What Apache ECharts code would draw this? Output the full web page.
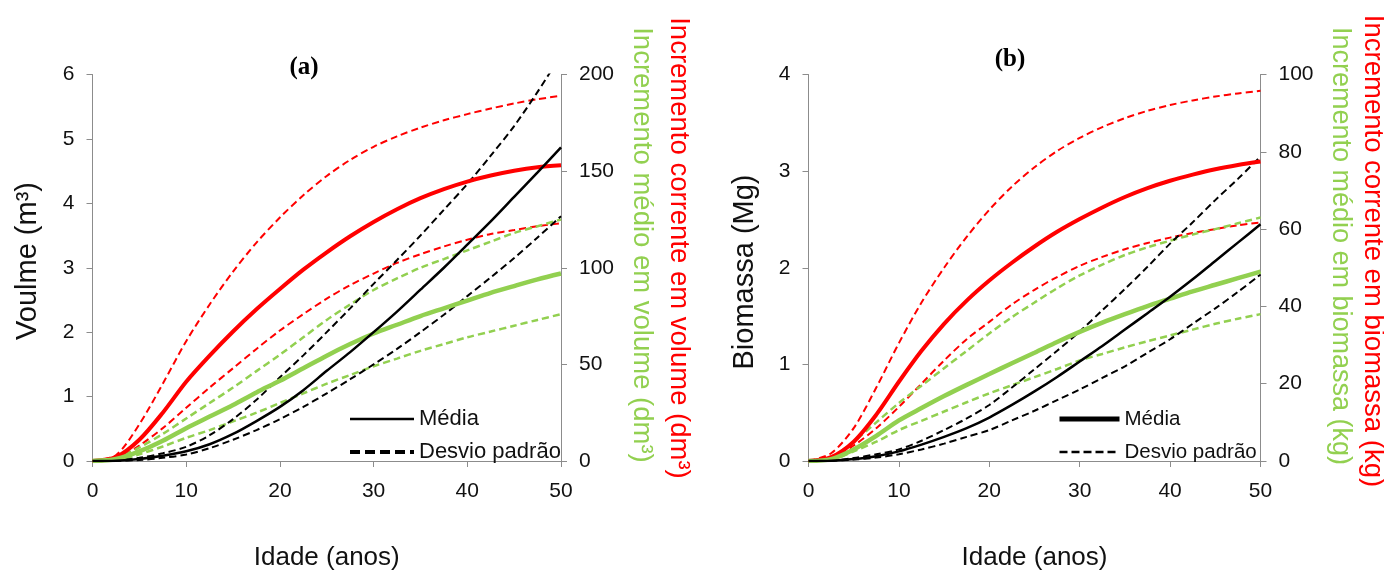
<!DOCTYPE html>
<html>
<head>
<meta charset="utf-8">
<script src="https://cdn.jsdelivr.net/npm/echarts@6/dist/echarts.min.js"></script>
<style>
html,body{margin:0;padding:0;background:#fff;}
#chart{width:1384px;height:576px;}
</style>
</head>
<body>
<div id="chart"></div>
<script>
// ---- data ----
const years = [0, 2.5, 5, 7.5, 10, 12.5, 15, 17.5, 20, 22.5, 25, 27.5, 30, 32.5, 35, 37.5, 40, 42.5, 45, 47.5, 50];

// Panel (a): volume (m3), left axis
const volMean  = [0, 0.005, 0.03, 0.08, 0.15, 0.26, 0.42, 0.62, 0.84, 1.10, 1.40, 1.69, 2.00, 2.32, 2.66, 3.00, 3.36, 3.72, 4.10, 4.48, 4.87];
const volUpper = [0, 0.01, 0.05, 0.12, 0.22, 0.40, 0.65, 0.95, 1.30, 1.64, 2.00, 2.37, 2.75, 3.12, 3.50, 3.90, 4.30, 4.74, 5.20, 5.73, 6.30];
const volLower = [0, 0.003, 0.015, 0.05, 0.10, 0.20, 0.33, 0.48, 0.65, 0.84, 1.05, 1.27, 1.50, 1.74, 2.00, 2.27, 2.56, 2.85, 3.15, 3.47, 3.80];
// Panel (a): increments (dm3), right axis
const icaVolMean  = [0, 2, 11, 25, 41, 54.5, 67, 78.5, 89, 99, 108, 116.3, 123.7, 130.3, 136, 140.7, 144.6, 147.7, 150.2, 152, 153];
const icaVolUpper = [0, 3, 19, 40, 62, 81, 98, 113, 126, 137.5, 147.5, 155.8, 162.6, 168, 172.5, 176.3, 179.5, 182.4, 185, 187.2, 189];
const icaVolLower = [0, 1, 8, 17, 27.5, 38, 48, 58, 67.5, 76, 84, 91, 97, 102.5, 107, 111, 114.5, 117.5, 119.5, 121.5, 123];
const imaVolMean  = [0, 1, 5, 10.5, 17, 23, 29, 35.5, 41.5, 48, 54.5, 60.5, 66, 70.5, 75, 79, 83, 87, 90.5, 94, 97];
const imaVolUpper = [0, 1.5, 7, 14, 22, 30, 38, 46.5, 55, 64, 73, 81, 88.5, 94.5, 100, 104.5, 109, 113.5, 118, 121.5, 125];
const imaVolLower = [0, 0.5, 3.5, 7.5, 12, 16, 20.5, 25, 30, 35, 40, 44.5, 49, 53, 57, 60.5, 64, 67, 70, 73, 76];

// Panel (b): biomass (Mg), left axis
const bioMean  = [0, 0.003, 0.02, 0.05, 0.10, 0.17, 0.25, 0.34, 0.45, 0.58, 0.72, 0.87, 1.03, 1.19, 1.36, 1.53, 1.70, 1.88, 2.07, 2.26, 2.45];
const bioUpper = [0, 0.004, 0.03, 0.07, 0.12, 0.21, 0.32, 0.44, 0.58, 0.76, 0.95, 1.14, 1.34, 1.56, 1.78, 2.01, 2.25, 2.47, 2.70, 2.92, 3.15];
const bioLower = [0, 0.002, 0.015, 0.035, 0.07, 0.12, 0.18, 0.25, 0.32, 0.42, 0.52, 0.63, 0.74, 0.86, 0.98, 1.12, 1.26, 1.42, 1.58, 1.75, 1.93];
// Panel (b): increments (kg), right axis
const icaBioMean  = [0, 1, 5, 12, 20.5, 28.5, 35.5, 41.5, 46.7, 51.3, 55.5, 59.3, 62.6, 65.6, 68.3, 70.6, 72.5, 74.1, 75.5, 76.6, 77.5];
const icaBioUpper = [0, 2, 8.5, 19, 30.5, 41, 50, 58, 65, 71, 76, 80.2, 83.6, 86.4, 88.7, 90.6, 92.1, 93.3, 94.3, 95.1, 95.8];
const icaBioLower = [0, 0.5, 4, 8.5, 14, 20, 26, 31.5, 36, 40.5, 44.3, 47.6, 50.5, 52.8, 54.8, 56.4, 57.8, 59, 60, 61, 61.7];
const imaBioMean  = [0, 0.5, 3, 6.5, 10.5, 13.7, 16.8, 19.7, 22.5, 25.3, 28, 30.8, 33.4, 35.8, 38, 40.1, 42, 43.9, 45.6, 47.3, 49];
const imaBioUpper = [0, 1, 5, 10, 15, 19.5, 24, 28.5, 33, 37.2, 41, 44.7, 48, 50.8, 53.3, 55.3, 57, 58.6, 60, 61.5, 63];
const imaBioLower = [0, 0.3, 2.5, 5, 8, 10.4, 12.8, 15.2, 17.5, 19.6, 21.7, 23.8, 26, 27.7, 29.4, 31, 32.5, 34, 35.5, 36.8, 38];

const legendNames = ['Média', 'Desvio padrão'];

// ---- chart ----
const FONT = "'Liberation Sans', Arial, sans-serif";
const RED = '#ff0000', GREEN = '#92d050', BLACK = '#000000', AXIS = '#8c8c8c';
const pairs = ys => years.map((x, i) => [x, ys[i]]);

function line(name, data, xi, yi, color, width, dashed, z) {
  return {
    name: name, type: 'line', xAxisIndex: xi, yAxisIndex: yi,
    data: pairs(data), smooth: 0.3, symbol: 'none',
    clip: true, silent: true, z: z,
    lineStyle: { color: color, width: width, type: dashed ? [7, 4] : 'solid' }
  };
}

function xAxis(gi) {
  return {
    type: 'value', gridIndex: gi, min: 0, max: 50, interval: 10,
    name: 'Idade (anos)', nameLocation: 'middle', nameGap: 84,
    nameTextStyle: { fontFamily: FONT, fontSize: 26, color: '#111', lineHeight: 26 },
    axisLine: { show: true, lineStyle: { color: AXIS, width: 1 } },
    axisTick: { show: true, length: 6, lineStyle: { color: AXIS } },
    axisLabel: { margin: 20, fontFamily: FONT, fontSize: 21, color: '#111' },
    splitLine: { show: false }
  };
}
function yAxis(gi, pos, max, interval) {
  return {
    type: 'value', gridIndex: gi, position: pos, min: 0, max: max, interval: interval,
    axisLine: { show: true, onZero: false, lineStyle: { color: AXIS, width: 1 } },
    axisTick: { show: true, length: 6, lineStyle: { color: AXIS } },
    axisLabel: { margin: 18, fontFamily: FONT, fontSize: 21, color: '#111' },
    splitLine: { show: false }
  };
}

const series = [
  // panel (a)
  line('ICA sup a', icaVolUpper, 0, 1, RED, 2, true, 2),
  line('ICA inf a', icaVolLower, 0, 1, RED, 2, true, 2),
  line('IMA sup a', imaVolUpper, 0, 1, GREEN, 2.5, true, 2),
  line('IMA inf a', imaVolLower, 0, 1, GREEN, 2.5, true, 2),
  line('Vol sup a', volUpper, 0, 0, BLACK, 2, true, 3),
  line('Vol inf a', volLower, 0, 0, BLACK, 2, true, 3),
  line('ICA a', icaVolMean, 0, 1, RED, 4, false, 4),
  line('IMA a', imaVolMean, 0, 1, GREEN, 4.5, false, 4),
  line('Vol a', volMean, 0, 0, BLACK, 2.5, false, 5),
  // panel (b)
  line('ICA sup b', icaBioUpper, 1, 3, RED, 2, true, 2),
  line('ICA inf b', icaBioLower, 1, 3, RED, 2, true, 2),
  line('IMA sup b', imaBioUpper, 1, 3, GREEN, 2.5, true, 2),
  line('IMA inf b', imaBioLower, 1, 3, GREEN, 2.5, true, 2),
  line('Bio sup b', bioUpper, 1, 2, BLACK, 2, true, 3),
  line('Bio inf b', bioLower, 1, 2, BLACK, 2, true, 3),
  line('ICA b', icaBioMean, 1, 3, RED, 4, false, 4),
  line('IMA b', imaBioMean, 1, 3, GREEN, 4.5, false, 4),
  line('Bio b', bioMean, 1, 2, BLACK, 2.5, false, 5),
  // legend-only series
  { name: legendNames[0], type: 'line', xAxisIndex: 0, yAxisIndex: 0, data: [], symbol: 'none',
    lineStyle: { color: BLACK, width: 2.5, type: 'solid' }, itemStyle: { color: BLACK } },
  { name: legendNames[1], type: 'line', xAxisIndex: 0, yAxisIndex: 0, data: [], symbol: 'none',
    lineStyle: { color: BLACK, width: 2, type: [8, 4] }, itemStyle: { color: BLACK } }
];

function legend(left, top, itemWidth, fontSize, solidW, dashW, dash) {
  const hidden = { opacity: 0, color: 'rgba(0,0,0,0)', borderWidth: 0 };
  return {
    orient: 'vertical', left: left, top: top, itemWidth: itemWidth, itemHeight: 14,
    itemGap: 11, selectedMode: false, padding: 0,
    itemStyle: hidden,
    textStyle: { fontFamily: FONT, fontSize: fontSize, color: '#111', lineHeight: 22 },
    data: [
      { name: legendNames[0], itemStyle: hidden, lineStyle: { width: solidW, type: 'solid', color: BLACK, opacity: 1 } },
      { name: legendNames[1], itemStyle: hidden, lineStyle: { width: dashW, type: dash, color: BLACK, opacity: 1 } }
    ]
  };
}

function vtext(x, y, rot, text, color, size) {
  return {
    type: 'text', x: x, y: y, rotation: rot, silent: true,
    style: { text: text, fill: color, fontFamily: FONT, fontSize: size,
             textAlign: 'center', textVerticalAlign: 'middle' }
  };
}

const option = {
  animation: false,
  backgroundColor: '#ffffff',
  grid: [
    { left: 92.5, top: 74.5, width: 468.5, height: 392 },
    { left: 808.5, top: 74.5, width: 452, height: 392 }
  ],
  xAxis: [xAxis(0), xAxis(1)],
  yAxis: [yAxis(0, 'left', 6, 1), yAxis(0, 'right', 200, 50),
          yAxis(1, 'left', 4, 1), yAxis(1, 'right', 100, 20)],
  legend: [
    legend(348, 408, 64, 22, 2.5, 4, [10, 5]),
    legend(1057, 408, 60, 20.5, 5, 2.5, [8, 4])
  ],
  series: series,
  graphic: [
    vtext(28, 261, Math.PI / 2, 'Voulme (m³)', '#111', 29),
    vtext(745, 272, Math.PI / 2, 'Biomassa (Mg)', '#111', 29),
    vtext(679, 248, -Math.PI / 2, 'Incremento corrente em volume (dm³)', RED, 27.5),
    vtext(642, 245, -Math.PI / 2, 'Incremento médio em volume (dm³)', GREEN, 27.5),
    vtext(1373, 251, -Math.PI / 2, 'Incremento corrente em biomassa (kg)', RED, 27.5),
    vtext(1340, 246, -Math.PI / 2, 'Incremento médio em biomassa (kg)', GREEN, 27),
    { type: 'text', x: 304, y: 68, silent: true,
      style: { text: '(a)', fill: '#000', fontFamily: "'Liberation Serif', 'Times New Roman', serif",
               fontWeight: 'bold', fontSize: 25, textAlign: 'center', textVerticalAlign: 'middle' } },
    { type: 'text', x: 1010, y: 60, silent: true,
      style: { text: '(b)', fill: '#000', fontFamily: "'Liberation Serif', 'Times New Roman', serif",
               fontWeight: 'bold', fontSize: 25, textAlign: 'center', textVerticalAlign: 'middle' } }
  ]
};

const chart = echarts.init(document.getElementById('chart'), null, { renderer: 'canvas' });
chart.setOption(option);
</script>
</body>
</html>
